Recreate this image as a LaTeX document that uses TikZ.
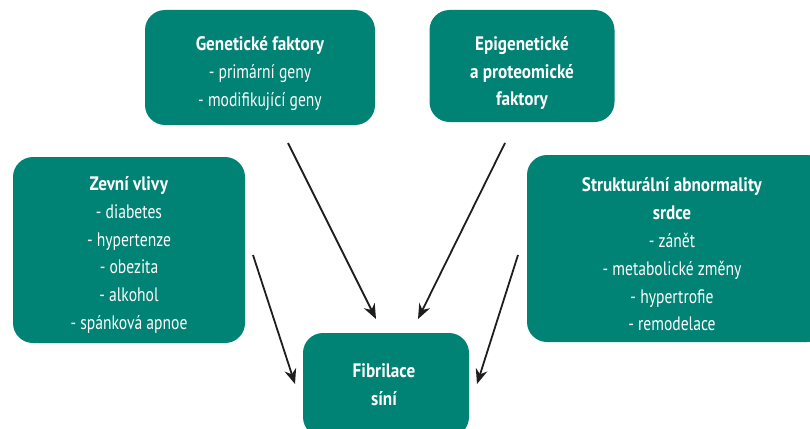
\documentclass[tikz,border=0pt]{standalone}
\usepackage{fontspec}
\setmainfont{PT Sans}[FakeStretch=0.80, BoldFeatures={FakeStretch=0.88}]
\usetikzlibrary{arrows.meta}
\definecolor{teal1}{RGB}{0,130,117}
\definecolor{arr}{RGB}{30,30,30}
\tikzset{
  box/.style={draw=none, fill=teal1, rounded corners=20pt, inner sep=0pt},
  txt/.style={text=white, align=center, font=\fontsize{19.5}{27.8}\selectfont, inner sep=0pt},
  conn/.style={draw=arr, line width=1.8pt, -{Stealth[length=15pt,width=12pt]}},
}
\begin{document}
\begin{tikzpicture}[x=1pt,y=-1pt]
\useasboundingbox (0,0) rectangle (810,428);
\clip (0,0) rectangle (810,428);
\node[box, minimum width=230pt, minimum height=115pt] (gen) at (260,67.5) {};
\node[txt] (gen-t) at ([yshift=-6pt]gen.center)
  {\textbf{Genetické faktory}\\- primární geny\\- modifikující geny};
\node[box, minimum width=185pt, minimum height=112pt] (epi) at (522,66) {};
\node[txt] (epi-t) at ([yshift=-7pt]epi.center)
  {\textbf{Epigenetické}\\\textbf{a proteomické}\\\textbf{faktory}};
\node[box, minimum width=232pt, minimum height=186pt] (zev) at (129,250) {};
\node[txt] (zev-t) at ([yshift=-5pt]zev.center)
  {\textbf{Zevní vlivy}\\- diabetes\\- hypertenze\\- obezita\\- alkohol\\- spánková apnoe};
\node[box, minimum width=300pt, minimum height=187pt] (str) at (677,248.5) {};
\node[txt] (str-t) at ([xshift=-5pt,yshift=-6pt]str.center)
  {\textbf{Strukturální abnormality}\\\textbf{srdce}\\- zánět\\- metabolické změny\\- hypertrofie\\- remodelace};
\node[box, minimum width=166pt, minimum height=104pt] (fib) at (386,385) {};
\node[txt] (fib-t) at ([xshift=-2pt]fib.center) {\textbf{Fibrilace}\\\textbf{síní}};
\coordinate (a1) at (253,255); \coordinate (b1) at (295,384);
\coordinate (a2) at (288,143); \coordinate (b2) at (376,319);
\coordinate (a3) at (505,143); \coordinate (b3) at (418,319);
\coordinate (a4) at (518,255); \coordinate (b4) at (477,384);
\draw[conn] (a1) -- (b1);
\draw[conn] (a2) -- (b2);
\draw[conn] (a3) -- (b3);
\draw[conn] (a4) -- (b4);
\end{tikzpicture}
\end{document}
